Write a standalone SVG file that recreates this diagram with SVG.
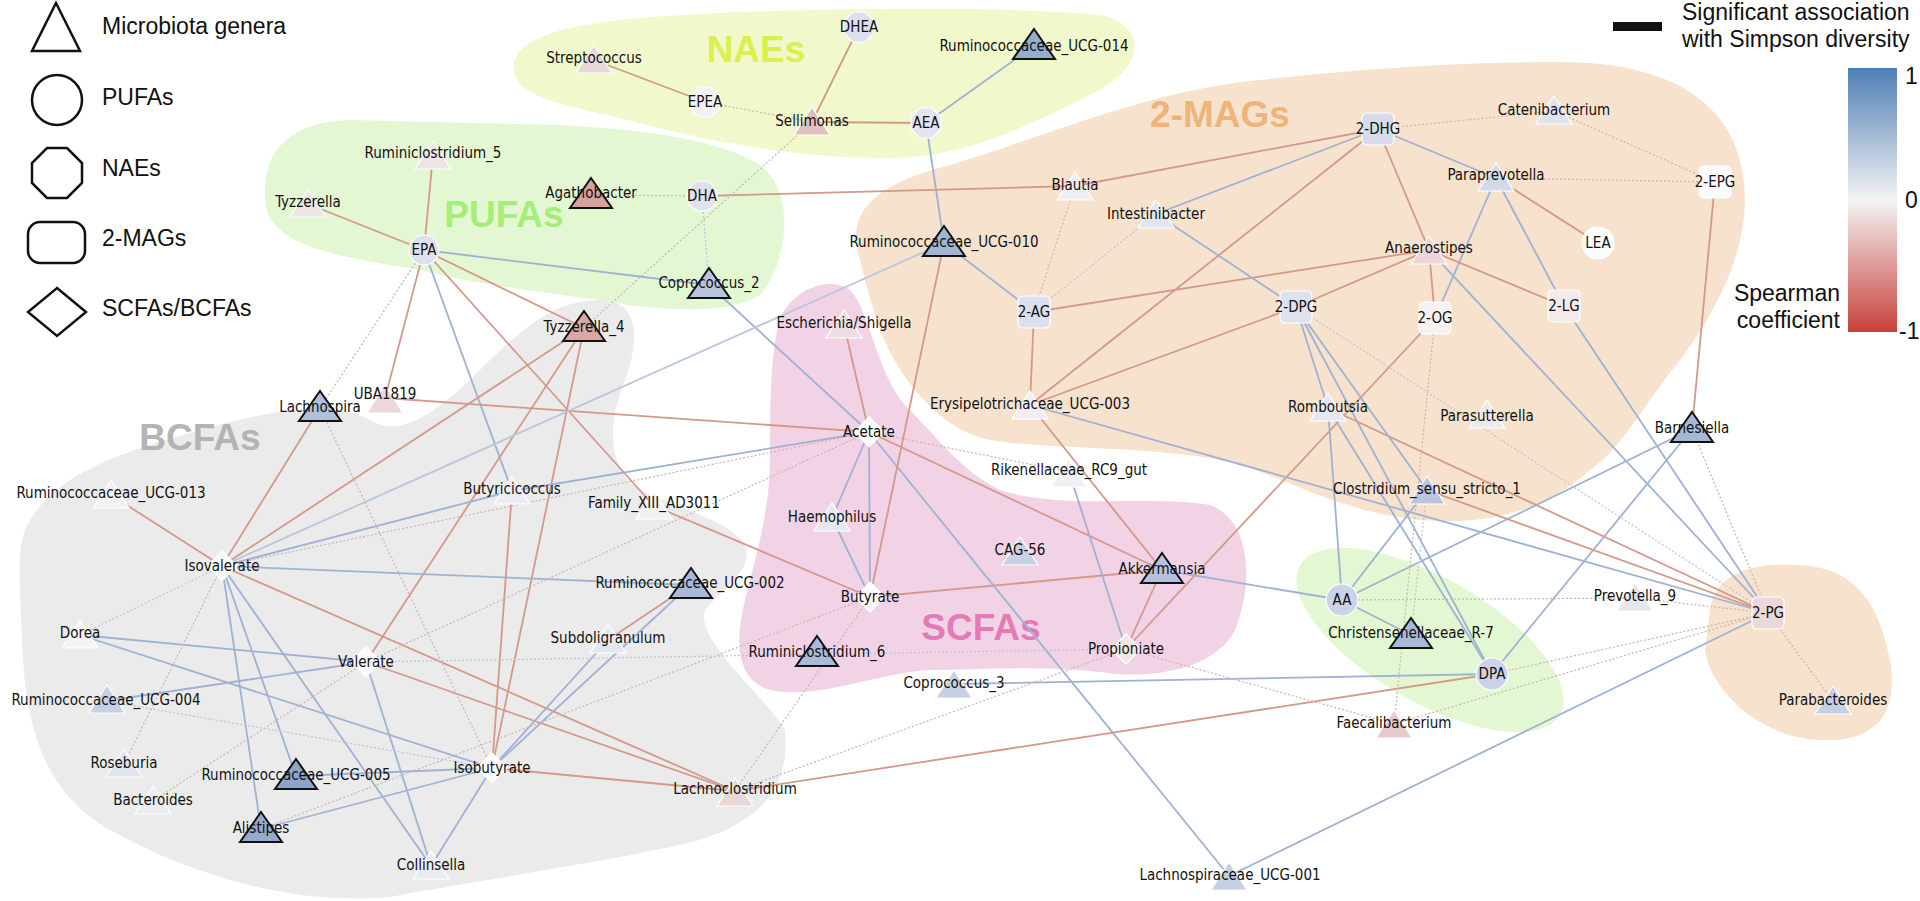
<svg xmlns="http://www.w3.org/2000/svg" width="1920" height="901" viewBox="0 0 1920 901">
<style>
text{font-family:"Liberation Sans",Arial,sans-serif;fill:#111}
.lb{font-family:"DejaVu Sans Condensed","DejaVu Sans",sans-serif;font-size:15px;text-anchor:middle;dominant-baseline:middle}
.lg{font-size:23px;dominant-baseline:middle}
.grp{font-weight:bold;font-size:37px;text-anchor:middle;dominant-baseline:middle}
.b{stroke:#9fb2d4;stroke-width:1.8;fill:none}
.r{stroke:#d3998a;stroke-width:1.8;fill:none}
.d{stroke:#cdb2b2;stroke-width:1.2;stroke-dasharray:2,2;fill:none}
.db{stroke:#b8c4dc;stroke-width:1.2;stroke-dasharray:2,2;fill:none}
.ts{stroke:#fff;stroke-width:1.2}
.tb{stroke:#111;stroke-width:2}
.nd{stroke:#fff;stroke-width:1.2}
</style>
<defs>
<path id="ts" d="M0,-17 L18,11 L-18,11Z"/>
<path id="tb" d="M0,-19 L21,11 L-21,11Z"/>
<path id="oc" d="M-6,-15 L6,-15 L15,-6 L15,6 L6,15 L-6,15 L-15,6 L-15,-6Z"/>
<path id="dm" d="M0,-15 L15,0 L0,15 L-15,0Z"/>
<rect id="rr" x="-16" y="-16" width="32" height="32" rx="5"/>
<linearGradient id="cb" x1="0" y1="0" x2="0" y2="1"><stop offset="0" stop-color="#4f7fb5"/><stop offset="0.5" stop-color="#f4f4f4"/><stop offset="1" stop-color="#c8413a"/></linearGradient>
</defs>
<rect width="1920" height="901" fill="#fff"/>
<g id="blobs">
<path fill="#f1f9cc" d="M515,75 C505,40 560,25 640,18 C760,8 1000,5 1100,15 C1150,25 1145,70 1090,95 C1030,125 970,155 900,158 C800,160 700,140 620,118 C560,105 520,95 515,75Z"/>
<path fill="#f7e2cd" d="M860,260 C845,215 870,185 950,165 C1050,135 1150,90 1260,80 C1350,70 1450,62 1560,62 C1680,62 1745,110 1745,200 C1745,260 1710,320 1680,360 C1640,410 1620,450 1590,470 C1540,515 1480,525 1420,520 C1340,512 1290,480 1240,465 C1170,445 1050,450 990,440 C940,430 900,380 880,330 C870,300 865,280 860,260Z"/>
<path fill="#e3f8d2" d="M265,200 C262,150 290,122 350,120 L560,125 C650,130 720,140 760,165 C795,190 790,260 760,295 C730,315 660,312 600,300 C540,292 480,285 420,270 C330,255 268,245 265,200Z"/>
<path fill="#ebebeb" d="M30,520 C60,470 130,450 200,430 C270,410 330,400 370,420 C400,440 440,410 480,370 C530,320 560,300 600,300 C640,300 640,340 625,380 C605,430 610,470 640,490 C680,510 730,520 745,545 C755,570 720,590 705,610 C695,640 760,690 785,730 C790,790 760,820 700,840 C620,860 480,880 390,897 C300,905 200,880 110,830 C40,790 25,720 22,640 C20,580 15,545 30,520Z"/>
<path fill="#f2d3e6" d="M780,320 C790,290 830,275 850,290 C870,310 875,370 905,405 C940,440 960,470 1000,490 C1060,510 1150,495 1210,505 C1250,520 1255,580 1235,630 C1215,670 1150,680 1100,672 C1040,665 980,670 930,670 C880,672 820,700 770,690 C735,680 735,640 745,600 C755,560 770,510 770,460 C770,410 770,350 780,320Z"/>
<ellipse fill="#e3f8d2" cx="1430" cy="640" rx="150" ry="62" transform="rotate(30 1430 640)"/>
<path fill="#f7e2cd" d="M1710,610 C1715,570 1760,562 1800,565 C1860,568 1880,610 1890,660 C1900,720 1870,742 1820,740 C1760,738 1710,690 1705,650Z"/>
<text class="grp" x="756" y="52" style="fill:#dcef4c">NAEs</text>
<text class="grp" x="1220" y="117" style="fill:#efb47a">2-MAGs</text>
<text class="grp" x="504" y="217" style="fill:#a6ee7c">PUFAs</text>
<text class="grp" x="200" y="440" style="fill:#b4b4b4">BCFAs</text>
<text class="grp" x="981" y="630" style="fill:#e47ab7">SCFAs</text>
</g>
<g id="connectors">
<line class="r" x1="594" y1="60" x2="705" y2="102"/>
<line class="r" x1="859" y1="27" x2="812" y2="122"/>
<line class="r" x1="812" y1="122" x2="926" y2="123"/>
<line class="b" x1="926" y1="123" x2="1034" y2="46"/>
<line class="b" x1="926" y1="123" x2="944" y2="243"/>
<line class="d" x1="705" y1="102" x2="812" y2="122"/>
<line class="d" x1="591" y1="195" x2="702" y2="196"/>
<line class="r" x1="702" y1="196" x2="1075" y2="186"/>
<line class="r" x1="1075" y1="186" x2="1378" y2="129"/>
<line class="db" x1="702" y1="196" x2="709" y2="285"/>
<line class="d" x1="812" y1="122" x2="584" y2="328"/>
<line class="r" x1="308" y1="204" x2="424" y2="250"/>
<line class="r" x1="433" y1="155" x2="424" y2="250"/>
<line class="b" x1="424" y1="250" x2="709" y2="285"/>
<line class="r" x1="424" y1="250" x2="584" y2="328"/>
<line class="r" x1="424" y1="250" x2="385" y2="398"/>
<line class="b" x1="424" y1="250" x2="512" y2="491"/>
<line class="r" x1="424" y1="250" x2="654" y2="506"/>
<line class="d" x1="424" y1="250" x2="320" y2="408"/>
<line class="r" x1="320" y1="408" x2="222" y2="566"/>
<line class="r" x1="584" y1="328" x2="366" y2="662"/>
<line class="r" x1="584" y1="328" x2="492" y2="768"/>
<line class="b" x1="709" y1="285" x2="869" y2="432"/>
<line class="r" x1="385" y1="398" x2="869" y2="432"/>
<line class="r" x1="844" y1="325" x2="869" y2="432"/>
<line class="b" x1="869" y1="432" x2="512" y2="491"/>
<line class="b" x1="869" y1="432" x2="832" y2="518"/>
<line class="b" x1="869" y1="432" x2="870" y2="597"/>
<line class="r" x1="869" y1="432" x2="1162" y2="570"/>
<line class="b" x1="869" y1="432" x2="1229" y2="876"/>
<line class="d" x1="869" y1="432" x2="1069" y2="472"/>
<line class="b" x1="944" y1="243" x2="222" y2="566" style="stroke:#b8c6de"/>
<line class="r" x1="222" y1="566" x2="111" y2="495"/>
<line class="b" x1="222" y1="566" x2="690" y2="585"/>
<line class="r" x1="222" y1="566" x2="735" y2="791"/>
<line class="b" x1="222" y1="566" x2="296" y2="776"/>
<line class="b" x1="222" y1="566" x2="261" y2="829"/>
<line class="b" x1="222" y1="566" x2="431" y2="866"/>
<line class="b" x1="222" y1="566" x2="512" y2="491"/>
<line class="r" x1="222" y1="566" x2="584" y2="328"/>
<line class="b" x1="80" y1="635" x2="366" y2="662"/>
<line class="b" x1="80" y1="635" x2="492" y2="768"/>
<line class="b" x1="366" y1="662" x2="106" y2="701"/>
<line class="b" x1="366" y1="662" x2="431" y2="866"/>
<line class="r" x1="366" y1="662" x2="735" y2="791"/>
<line class="b" x1="492" y1="768" x2="296" y2="776"/>
<line class="b" x1="492" y1="768" x2="261" y2="829"/>
<line class="b" x1="492" y1="768" x2="431" y2="866"/>
<line class="r" x1="492" y1="768" x2="735" y2="791"/>
<line class="b" x1="492" y1="768" x2="608" y2="640"/>
<line class="b" x1="492" y1="768" x2="690" y2="585"/>
<line class="r" x1="492" y1="768" x2="512" y2="491"/>
<line class="r" x1="608" y1="640" x2="690" y2="585"/>
<line class="b" x1="870" y1="597" x2="832" y2="518"/>
<line class="r" x1="870" y1="597" x2="944" y2="243"/>
<line class="r" x1="870" y1="597" x2="1162" y2="570"/>
<line class="r" x1="870" y1="597" x2="654" y2="506"/>
<line class="r" x1="1126" y1="649" x2="1162" y2="570"/>
<line class="b" x1="1126" y1="649" x2="1069" y2="472"/>
<line class="r" x1="1126" y1="649" x2="1435" y2="318"/>
<line class="b" x1="1162" y1="570" x2="1342" y2="600"/>
<line class="r" x1="735" y1="791" x2="1492" y2="674"/>
<line class="b" x1="954" y1="684" x2="1492" y2="674"/>
<line class="b" x1="1229" y1="876" x2="1768" y2="613"/>
<line class="b" x1="1342" y1="600" x2="1427" y2="490"/>
<line class="b" x1="1342" y1="600" x2="1692" y2="429"/>
<line class="b" x1="1342" y1="600" x2="1328" y2="408"/>
<line class="b" x1="1342" y1="600" x2="1411" y2="635"/>
<line class="d" x1="1342" y1="600" x2="1635" y2="598"/>
<line class="b" x1="1492" y1="674" x2="1296" y2="307"/>
<line class="b" x1="1492" y1="674" x2="1692" y2="429"/>
<line class="b" x1="1492" y1="674" x2="1328" y2="408"/>
<line class="d" x1="1492" y1="674" x2="1768" y2="613"/>
<line class="r" x1="1768" y1="613" x2="1328" y2="408"/>
<line class="r" x1="1768" y1="613" x2="1427" y2="490"/>
<line class="b" x1="1768" y1="613" x2="1030" y2="405"/>
<line class="b" x1="1768" y1="613" x2="1429" y2="250"/>
<line class="b" x1="1768" y1="613" x2="1564" y2="306"/>
<line class="d" x1="1768" y1="613" x2="1833" y2="701"/>
<line class="d" x1="1768" y1="613" x2="1635" y2="598"/>
<line class="d" x1="1768" y1="613" x2="1692" y2="429"/>
<line class="b" x1="1378" y1="129" x2="1156" y2="214"/>
<line class="b" x1="1378" y1="129" x2="1496" y2="178"/>
<line class="r" x1="1378" y1="129" x2="1429" y2="250"/>
<line class="r" x1="1378" y1="129" x2="1030" y2="405"/>
<line class="d" x1="1378" y1="129" x2="1554" y2="111"/>
<line class="d" x1="1554" y1="111" x2="1715" y2="182"/>
<line class="r" x1="1496" y1="178" x2="1598" y2="243"/>
<line class="b" x1="1496" y1="178" x2="1564" y2="306"/>
<line class="b" x1="1496" y1="178" x2="1435" y2="318"/>
<line class="d" x1="1496" y1="178" x2="1715" y2="182"/>
<line class="r" x1="1715" y1="182" x2="1692" y2="429"/>
<line class="r" x1="1429" y1="250" x2="1034" y2="312"/>
<line class="r" x1="1429" y1="250" x2="1296" y2="307"/>
<line class="r" x1="1429" y1="250" x2="1435" y2="318"/>
<line class="r" x1="1429" y1="250" x2="1564" y2="306"/>
<line class="b" x1="1156" y1="214" x2="1296" y2="307"/>
<line class="b" x1="1034" y1="312" x2="944" y2="243"/>
<line class="r" x1="1034" y1="312" x2="1030" y2="405"/>
<line class="d" x1="1034" y1="312" x2="1075" y2="186"/>
<line class="r" x1="1296" y1="307" x2="1030" y2="405"/>
<line class="b" x1="1296" y1="307" x2="1328" y2="408"/>
<line class="b" x1="1296" y1="307" x2="1427" y2="490"/>
<line class="r" x1="1030" y1="405" x2="1162" y2="570"/>
<line class="d" x1="222" y1="566" x2="869" y2="432"/>
<line class="d" x1="366" y1="662" x2="869" y2="432"/>
<line class="d" x1="261" y1="829" x2="870" y2="597"/>
<line class="d" x1="153" y1="801" x2="366" y2="662"/>
<line class="d" x1="124" y1="764" x2="222" y2="566"/>
<line class="d" x1="320" y1="408" x2="492" y2="768"/>
<line class="d" x1="735" y1="791" x2="870" y2="597"/>
<line class="d" x1="735" y1="791" x2="1126" y2="649"/>
<line class="d" x1="1394" y1="724" x2="1768" y2="613"/>
<line class="d" x1="1394" y1="724" x2="1126" y2="649"/>
<line class="db" x1="366" y1="662" x2="1126" y2="649"/>
<line class="db" x1="80" y1="635" x2="222" y2="566"/>
<line class="db" x1="106" y1="701" x2="492" y2="768"/>
<line class="d" x1="1435" y1="318" x2="1394" y2="724"/>
<line class="db" x1="1296" y1="307" x2="1768" y2="613"/>
<line class="db" x1="1156" y1="214" x2="1034" y2="312"/>
<line class="db" x1="1427" y1="490" x2="1411" y2="635"/>
</g>
<g id="n-Streptococcus"><use href="#ts" x="594" y="62" fill="#e8d8d8" class="ts"/><text class="lb" x="594" y="58">Streptococcus</text></g>
<g id="n-UCG014"><use href="#tb" x="1034" y="48" fill="#97add0" class="tb"/><text class="lb" x="1034" y="46">Ruminococcaceae_UCG-014</text></g>
<g id="n-Sellimonas"><use href="#ts" x="812" y="124" fill="#dfc2c0" class="ts"/><text class="lb" x="812" y="121">Sellimonas</text></g>
<g id="n-Rumini5"><use href="#ts" x="433" y="158" fill="#ede4e6" class="ts"/><text class="lb" x="433" y="153">Ruminiclostridium_5</text></g>
<g id="n-Tyzzerella"><use href="#ts" x="308" y="206" fill="#ede6e6" class="ts"/><text class="lb" x="308" y="202">Tyzzerella</text></g>
<g id="n-Agathobacter"><use href="#tb" x="591" y="197" fill="#d6a09b" class="tb"/><text class="lb" x="591" y="193">Agathobacter</text></g>
<g id="n-Coprococcus2"><use href="#tb" x="709" y="287" fill="#b7c4dc" class="tb"/><text class="lb" x="709" y="283">Coprococcus_2</text></g>
<g id="n-UCG010"><use href="#tb" x="944" y="245" fill="#a2b5d4" class="tb"/><text class="lb" x="944" y="242">Ruminococcaceae_UCG-010</text></g>
<g id="n-Tyzzerella4"><use href="#tb" x="584" y="330" fill="#d9a8a4" class="tb"/><text class="lb" x="584" y="327">Tyzzerella_4</text></g>
<g id="n-Escherichia"><use href="#ts" x="844" y="327" fill="#ebdfe1" class="ts"/><text class="lb" x="844" y="323">Escherichia/Shigella</text></g>
<g id="n-Lachnospira"><use href="#tb" x="320" y="410" fill="#b0c0dc" class="tb"/><text class="lb" x="320" y="407">Lachnospira</text></g>
<g id="n-UBA1819"><use href="#ts" x="385" y="402" fill="#ecd8d8" class="ts"/><text class="lb" x="385" y="394">UBA1819</text></g>
<g id="n-Butyricicoccus"><use href="#ts" x="512" y="493" fill="#ecedf2" class="ts"/><text class="lb" x="512" y="489">Butyricicoccus</text></g>
<g id="n-UCG013"><use href="#ts" x="111" y="497" fill="#f2f2f4" class="ts"/><text class="lb" x="111" y="493">Ruminococcaceae_UCG-013</text></g>
<g id="n-Family"><use href="#ts" x="654" y="508" fill="#f2f2f4" class="ts"/><text class="lb" x="654" y="503">Family_XIII_AD3011</text></g>
<g id="n-Haemophilus"><use href="#ts" x="832" y="520" fill="#e6e8f0" class="ts"/><text class="lb" x="832" y="517">Haemophilus</text></g>
<g id="n-UCG002"><use href="#tb" x="691" y="587" fill="#a9bad8" class="tb"/><text class="lb" x="690" y="583">Ruminococcaceae_UCG-002</text></g>
<g id="n-Subdoligranulum"><use href="#ts" x="608" y="642" fill="#e3e7f0" class="ts"/><text class="lb" x="608" y="638">Subdoligranulum</text></g>
<g id="n-Dorea"><use href="#ts" x="80" y="637" fill="#f4f4f6" class="ts"/><text class="lb" x="80" y="633">Dorea</text></g>
<g id="n-UCG004"><use href="#ts" x="107" y="702" fill="#c5d0e4" class="ts"/><text class="lb" x="106" y="700">Ruminococcaceae_UCG-004</text></g>
<g id="n-Roseburia"><use href="#ts" x="124" y="766" fill="#dfe4ee" class="ts"/><text class="lb" x="124" y="763">Roseburia</text></g>
<g id="n-UCG005"><use href="#tb" x="296" y="778" fill="#8fa4c8" class="tb"/><text class="lb" x="296" y="775">Ruminococcaceae_UCG-005</text></g>
<g id="n-Bacteroides"><use href="#ts" x="153" y="803" fill="#eaecf2" class="ts"/><text class="lb" x="153" y="800">Bacteroides</text></g>
<g id="n-Alistipes"><use href="#tb" x="261" y="831" fill="#97aacd" class="tb"/><text class="lb" x="261" y="828">Alistipes</text></g>
<g id="n-Collinsella"><use href="#ts" x="431" y="868" fill="#eaecf2" class="ts"/><text class="lb" x="431" y="865">Collinsella</text></g>
<g id="n-Lachnoclostridium"><use href="#ts" x="735" y="795" fill="#ebd6d8" class="ts"/><text class="lb" x="735" y="789">Lachnoclostridium</text></g>
<g id="n-Rumini6"><use href="#tb" x="817" y="655" fill="#a9bbd8" class="tb"/><text class="lb" x="817" y="652">Ruminiclostridium_6</text></g>
<g id="n-Coprococcus3"><use href="#ts" x="954" y="687" fill="#c6d0e4" class="ts"/><text class="lb" x="954" y="683">Coprococcus_3</text></g>
<g id="n-CAG56"><use href="#ts" x="1020" y="554" fill="#c8d2e4" class="ts"/><text class="lb" x="1020" y="550">CAG-56</text></g>
<g id="n-Akkermansia"><use href="#tb" x="1162" y="572" fill="#b4c2dc" class="tb"/><text class="lb" x="1162" y="569">Akkermansia</text></g>
<g id="n-Rikenellaceae"><use href="#ts" x="1069" y="476" fill="#f0f0f2" class="ts"/><text class="lb" x="1069" y="470">Rikenellaceae_RC9_gut</text></g>
<g id="n-Erysipelo"><use href="#ts" x="1030" y="408" fill="#f0eef2" class="ts"/><text class="lb" x="1030" y="404">Erysipelotrichaceae_UCG-003</text></g>
<g id="n-Blautia"><use href="#ts" x="1075" y="189" fill="#eeeef4" class="ts"/><text class="lb" x="1075" y="185">Blautia</text></g>
<g id="n-Intestinibacter"><use href="#ts" x="1156" y="217" fill="#e0e5f0" class="ts"/><text class="lb" x="1156" y="214">Intestinibacter</text></g>
<g id="n-Catenibacterium"><use href="#ts" x="1554" y="113" fill="#dfe3ee" class="ts"/><text class="lb" x="1554" y="110">Catenibacterium</text></g>
<g id="n-Paraprevotella"><use href="#ts" x="1496" y="180" fill="#d2daea" class="ts"/><text class="lb" x="1496" y="175">Paraprevotella</text></g>
<g id="n-Anaerostipes"><use href="#ts" x="1429" y="253" fill="#ecd6d8" class="ts"/><text class="lb" x="1429" y="248">Anaerostipes</text></g>
<g id="n-Romboutsia"><use href="#ts" x="1328" y="410" fill="#e4e8f2" class="ts"/><text class="lb" x="1328" y="407">Romboutsia</text></g>
<g id="n-Parasutterella"><use href="#ts" x="1487" y="417" fill="#eeeaec" class="ts"/><text class="lb" x="1487" y="416">Parasutterella</text></g>
<g id="n-Clostridium"><use href="#ts" x="1427" y="493" fill="#b9c6de" class="ts"/><text class="lb" x="1427" y="489">Clostridium_sensu_stricto_1</text></g>
<g id="n-Barnesiella"><use href="#tb" x="1692" y="431" fill="#a6b8d6" class="tb"/><text class="lb" x="1692" y="428">Barnesiella</text></g>
<g id="n-Christensenellaceae"><use href="#tb" x="1411" y="637" fill="#a9bad8" class="tb"/><text class="lb" x="1411" y="633">Christensenellaceae_R-7</text></g>
<g id="n-Prevotella9"><use href="#ts" x="1635" y="600" fill="#e6e6ee" class="ts"/><text class="lb" x="1635" y="596">Prevotella_9</text></g>
<g id="n-Faecalibacterium"><use href="#ts" x="1394" y="727" fill="#e4caca" class="ts"/><text class="lb" x="1394" y="723">Faecalibacterium</text></g>
<g id="n-Parabacteroides"><use href="#ts" x="1833" y="703" fill="#c6d0e4" class="ts"/><text class="lb" x="1833" y="700">Parabacteroides</text></g>
<g id="n-LachnoUCG001"><use href="#ts" x="1229" y="879" fill="#c6d0e4" class="ts"/><text class="lb" x="1230" y="875">Lachnospiraceae_UCG-001</text></g>
<g id="n-EPA"><circle cx="424" cy="250" r="15" fill="#dfe2ee" class="nd"/><text class="lb" x="424" y="250">EPA</text></g>
<g id="n-DHA"><circle cx="702" cy="196" r="15" fill="#dfe2ee" class="nd"/><text class="lb" x="702" y="196">DHA</text></g>
<g id="n-AA"><circle cx="1342" cy="600" r="16" fill="#cdd3e6" class="nd"/><text class="lb" x="1342" y="600">AA</text></g>
<g id="n-DPA"><circle cx="1492" cy="674" r="16" fill="#cdd3e6" class="nd"/><text class="lb" x="1492" y="674">DPA</text></g>
<g id="n-LEA"><circle cx="1598" cy="243" r="16" fill="#fbfbfb" class="nd"/><text class="lb" x="1598" y="243">LEA</text></g>
<g id="n-DHEA"><use href="#oc" x="859" y="27" fill="#dcdfee" class="nd"/><text class="lb" x="859" y="27">DHEA</text></g>
<g id="n-EPEA"><use href="#oc" x="705" y="102" fill="#f2f2f6" class="nd"/><text class="lb" x="705" y="102">EPEA</text></g>
<g id="n-AEA"><use href="#oc" x="926" y="123" fill="#e2e4f0" class="nd"/><text class="lb" x="926" y="123">AEA</text></g>
<g id="n-2DHG"><use href="#rr" x="1378" y="129" fill="#d6dcec" class="nd"/><text class="lb" x="1378" y="129">2-DHG</text></g>
<g id="n-2EPG"><use href="#rr" x="1715" y="182" fill="#fbfbfb" class="nd"/><text class="lb" x="1715" y="182">2-EPG</text></g>
<g id="n-2AG"><use href="#rr" x="1034" y="312" fill="#dbe0ee" class="nd"/><text class="lb" x="1034" y="312">2-AG</text></g>
<g id="n-2DPG"><use href="#rr" x="1296" y="307" fill="#dde2ee" class="nd"/><text class="lb" x="1296" y="307">2-DPG</text></g>
<g id="n-2OG"><use href="#rr" x="1435" y="318" fill="#f6f2f2" class="nd"/><text class="lb" x="1435" y="318">2-OG</text></g>
<g id="n-2LG"><use href="#rr" x="1564" y="306" fill="#f3eaea" class="nd"/><text class="lb" x="1564" y="306">2-LG</text></g>
<g id="n-2PG"><use href="#rr" x="1768" y="613" fill="#ead8dc" class="nd"/><text class="lb" x="1768" y="613">2-PG</text></g>
<g id="n-Acetate"><use href="#dm" x="869" y="432" fill="#fafafa" class="nd"/><text class="lb" x="869" y="432">Acetate</text></g>
<g id="n-Isovalerate"><use href="#dm" x="222" y="566" fill="#fafafa" class="nd"/><text class="lb" x="222" y="566">Isovalerate</text></g>
<g id="n-Valerate"><use href="#dm" x="366" y="662" fill="#fafafa" class="nd"/><text class="lb" x="366" y="662">Valerate</text></g>
<g id="n-Butyrate"><use href="#dm" x="870" y="597" fill="#fafafa" class="nd"/><text class="lb" x="870" y="597">Butyrate</text></g>
<g id="n-Propioniate"><use href="#dm" x="1126" y="649" fill="#f0e8e4" class="nd"/><text class="lb" x="1126" y="649">Propioniate</text></g>
<g id="n-Isobutyrate"><use href="#dm" x="492" y="768" fill="#fafafa" class="nd"/><text class="lb" x="492" y="768">Isobutyrate</text></g>
<g id="legend" fill="none" stroke="#111" stroke-width="2.5">
<path d="M56,3 L80,51 L32,51Z"/>
<circle cx="57" cy="100" r="25"/>
<path d="M47,148 L67,148 L82,163 L82,183 L67,198 L47,198 L32,183 L32,163Z"/>
<rect x="28" y="222" width="57" height="41" rx="12"/>
<path d="M57,288 L86,312 L57,336 L28,312Z"/>
<text class="lg" x="102" y="28" stroke="none">Microbiota genera</text>
<text class="lg" x="102" y="99" stroke="none">PUFAs</text>
<text class="lg" x="102" y="170" stroke="none">NAEs</text>
<text class="lg" x="102" y="240" stroke="none">2-MAGs</text>
<text class="lg" x="102" y="310" stroke="none">SCFAs/BCFAs</text>
</g>
<g id="colorlegend">
<rect x="1613" y="22" width="49" height="9" fill="#111"/>
<text class="lg" x="1682" y="14">Significant association</text>
<text class="lg" x="1682" y="41">with Simpson diversity</text>
<rect x="1848" y="68" width="49" height="264" fill="url(#cb)"/>
<text class="lg" x="1905" y="78">1</text>
<text class="lg" x="1905" y="202">0</text>
<text class="lg" x="1899" y="333">-1</text>
<text class="lg" x="1840" y="295" text-anchor="end">Spearman</text>
<text class="lg" x="1840" y="322" text-anchor="end">coefficient</text>
</g>
</svg>
